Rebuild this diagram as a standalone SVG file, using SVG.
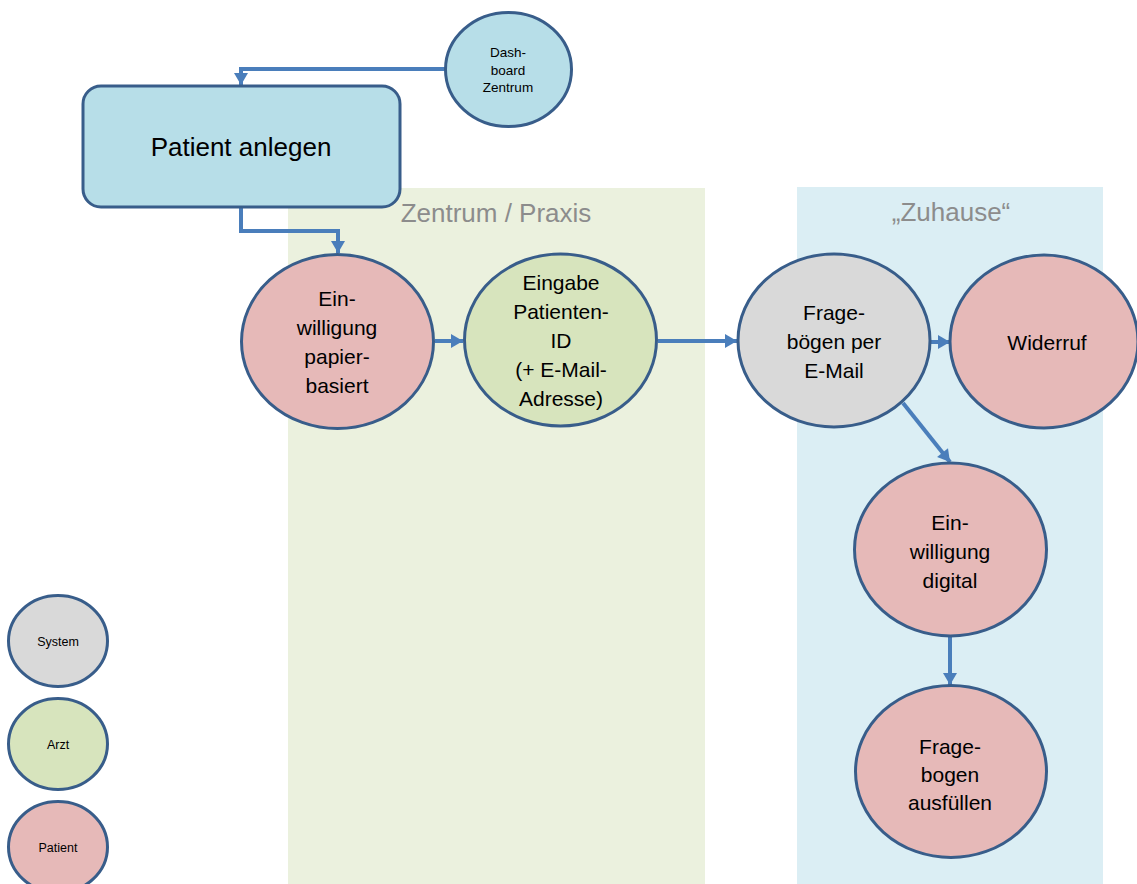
<svg xmlns="http://www.w3.org/2000/svg" width="1137" height="884" viewBox="0 0 1137 884">
<style>
.node{stroke:#385d8a;stroke-width:3}
.pat{fill:#e6b9b8}.arzt{fill:#d7e4bd}.sys{fill:#d9d9d9}.blue{fill:#b7dee8}
.t{font-family:"Liberation Sans",Arial,sans-serif;fill:#000;text-anchor:middle}
.n{font-size:21px}
.lane{font-family:"Liberation Sans",Arial,sans-serif;font-size:26px;fill:#8c8c8c;text-anchor:middle}
.c{fill:none;stroke:#4a7ebb;stroke-width:4}
</style>
<defs>
<marker id="ah" markerUnits="userSpaceOnUse" markerWidth="16" markerHeight="16" viewBox="0 0 16 16" refX="14" refY="8" orient="auto">
<path d="M2,1 L14,8 L2,15 Z" fill="#4a7ebb"/>
</marker>
</defs>
<rect width="1137" height="884" fill="#fff"/>
<g id="lane-zentrum">
<rect x="288" y="188" width="417" height="696" fill="#ebf1de"/>
<text class="lane" x="496" y="222">Zentrum / Praxis</text>
</g>
<g id="lane-zuhause">
<rect x="797" y="187" width="306" height="697" fill="#dbeef4"/>
<text class="lane" x="951" y="221">„Zuhause“</text>
</g>
<g id="connectors">
<path class="c" d="M445,69 H241 V85" marker-end="url(#ah)"/>
<path class="c" d="M241,207 V231 H338 V253" marker-end="url(#ah)"/>
<path class="c" d="M435,341 H463" marker-end="url(#ah)"/>
<path class="c" d="M658,341 H737" marker-end="url(#ah)"/>
<path class="c" d="M931,342 H950" marker-end="url(#ah)"/>
<path class="c" d="M903,403 L950,462" marker-end="url(#ah)"/>
<path class="c" d="M950,637 V685" marker-end="url(#ah)"/>
</g>
<g id="dashboard">
<ellipse class="node blue" cx="508.5" cy="69.5" rx="63" ry="57"/>
<text class="t" font-size="13.5" x="508" y="57">Dash-</text>
<text class="t" font-size="13.5" x="508" y="74.5">board</text>
<text class="t" font-size="13.5" x="508" y="92">Zentrum</text>
</g>
<g id="patient-anlegen">
<rect class="node blue" x="83" y="86" width="317" height="121" rx="18"/>
<text class="t" font-size="26" x="241" y="156">Patient anlegen</text>
</g>
<g id="einwilligung-papier">
<ellipse class="node pat" cx="337.5" cy="341.5" rx="96" ry="87"/>
<text class="t n" x="337" y="306">Ein-</text>
<text class="t n" x="337" y="335">willigung</text>
<text class="t n" x="337" y="364">papier-</text>
<text class="t n" x="337" y="393">basiert</text>
</g>
<g id="eingabe">
<ellipse class="node arzt" cx="560.5" cy="340" rx="96" ry="86"/>
<text class="t n" x="561" y="290">Eingabe</text>
<text class="t n" x="561" y="319">Patienten-</text>
<text class="t n" x="561" y="348">ID</text>
<text class="t n" x="561" y="377">(+ E-Mail-</text>
<text class="t n" x="561" y="406">Adresse)</text>
</g>
<g id="frageboegen-email">
<ellipse class="node sys" cx="834" cy="340.5" rx="96" ry="86.5"/>
<text class="t n" x="834" y="320">Frage-</text>
<text class="t n" x="834" y="349">bögen per</text>
<text class="t n" x="834" y="378">E-Mail</text>
</g>
<g id="widerruf">
<ellipse class="node pat" cx="1044" cy="341.5" rx="94" ry="86.5"/>
<text class="t n" x="1047" y="350">Widerruf</text>
</g>
<g id="einwilligung-digital">
<ellipse class="node pat" cx="950.5" cy="549.5" rx="96" ry="86.5"/>
<text class="t n" x="950" y="530">Ein-</text>
<text class="t n" x="950" y="559">willigung</text>
<text class="t n" x="950" y="588">digital</text>
</g>
<g id="fragebogen-ausfuellen">
<ellipse class="node pat" cx="951" cy="771.5" rx="95.5" ry="86"/>
<text class="t n" x="950" y="754">Frage-</text>
<text class="t n" x="950" y="782">bogen</text>
<text class="t n" x="950" y="810">ausfüllen</text>
</g>
<g id="legend-system">
<ellipse class="node sys" cx="58" cy="641" rx="49.5" ry="45.5"/>
<text class="t" font-size="12.5" x="58" y="645.5">System</text>
</g>
<g id="legend-arzt">
<ellipse class="node arzt" cx="58" cy="744" rx="49.5" ry="45.5"/>
<text class="t" font-size="12.5" x="58" y="748.5">Arzt</text>
</g>
<g id="legend-patient">
<ellipse class="node pat" cx="58" cy="847" rx="49.5" ry="45.5"/>
<text class="t" font-size="12.5" x="58" y="851.5">Patient</text>
</g>
</svg>
